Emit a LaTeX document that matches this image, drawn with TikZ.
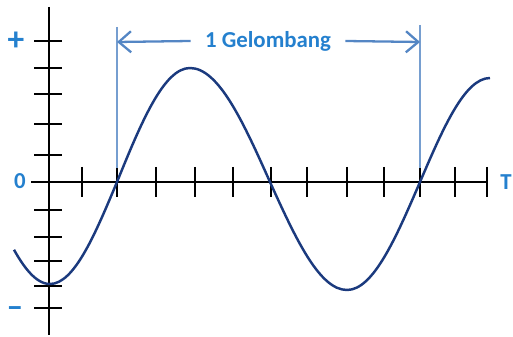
\documentclass[tikz,border=0pt]{standalone}
\usepackage{fontspec}
\setmainfont{Carlito}
\usetikzlibrary{arrows.meta}
\definecolor{wavecol}{RGB}{27,58,126}
\definecolor{lblcol}{RGB}{36,128,206}
\definecolor{dimcol}{RGB}{84,134,196}
\begin{document}
\begin{tikzpicture}[x=0.02cm,y=-0.02cm,>={Straight Barb[length=7pt,width=12pt]},
  axis/.style={line width=1.7pt},
  tick/.style={line width=1.4pt},
  lbl/.style={text=lblcol,font=\bfseries\fontsize{13}{15}\selectfont,inner sep=0pt},
  sign/.style={lbl,font=\bfseries\fontsize{19}{20}\selectfont},
  dim/.style={draw=dimcol,line width=1.3pt},
  guide/.style={draw=dimcol!80,line width=0.7pt}]
\useasboundingbox (0,0) rectangle (513,337);

% axes
\draw[axis] (49,7) -- (49,335);
\draw[axis] (31,182) -- (487,182);
\foreach \y in {41,68,94,124,155,210,237,261,286,308}
  \draw[tick] (34,\y) -- (62,\y);
\foreach \x in {82,117,156,195,233,271,307,347,384,420,455,487}
  \draw[tick] (\x,167) -- (\x,197);

\node[sign] (plus) at (16,41) {+};
\node[lbl] (zero) at (20,181) {0};
\node[sign] (minus) at (15,312) {--};
\node[lbl] (tlbl) at (506,182) {T};

% wave
\draw[wavecol,line width=1.4pt] plot[domain=14:50,samples=20] (\x,{182+102*cos((\x-50)*90/67)})
  cos (117,182) sin (190,68) cos (270,182) sin (347,290) cos (420,182) sin (490,78);

% one wavelength
\draw[guide] (117,27) -- (117,168);
\draw[guide] (420,25) -- (420,168);
\coordinate (w1) at (117,42);
\coordinate (w2) at (420,42);
\node[lbl,inner xsep=8pt] (wlen) at (268,41) {1 Gelombang};
\draw[dim,->] (wlen.west) -- (w1);
\draw[dim,->] (wlen.east) -- (w2);
\end{tikzpicture}
\end{document}
